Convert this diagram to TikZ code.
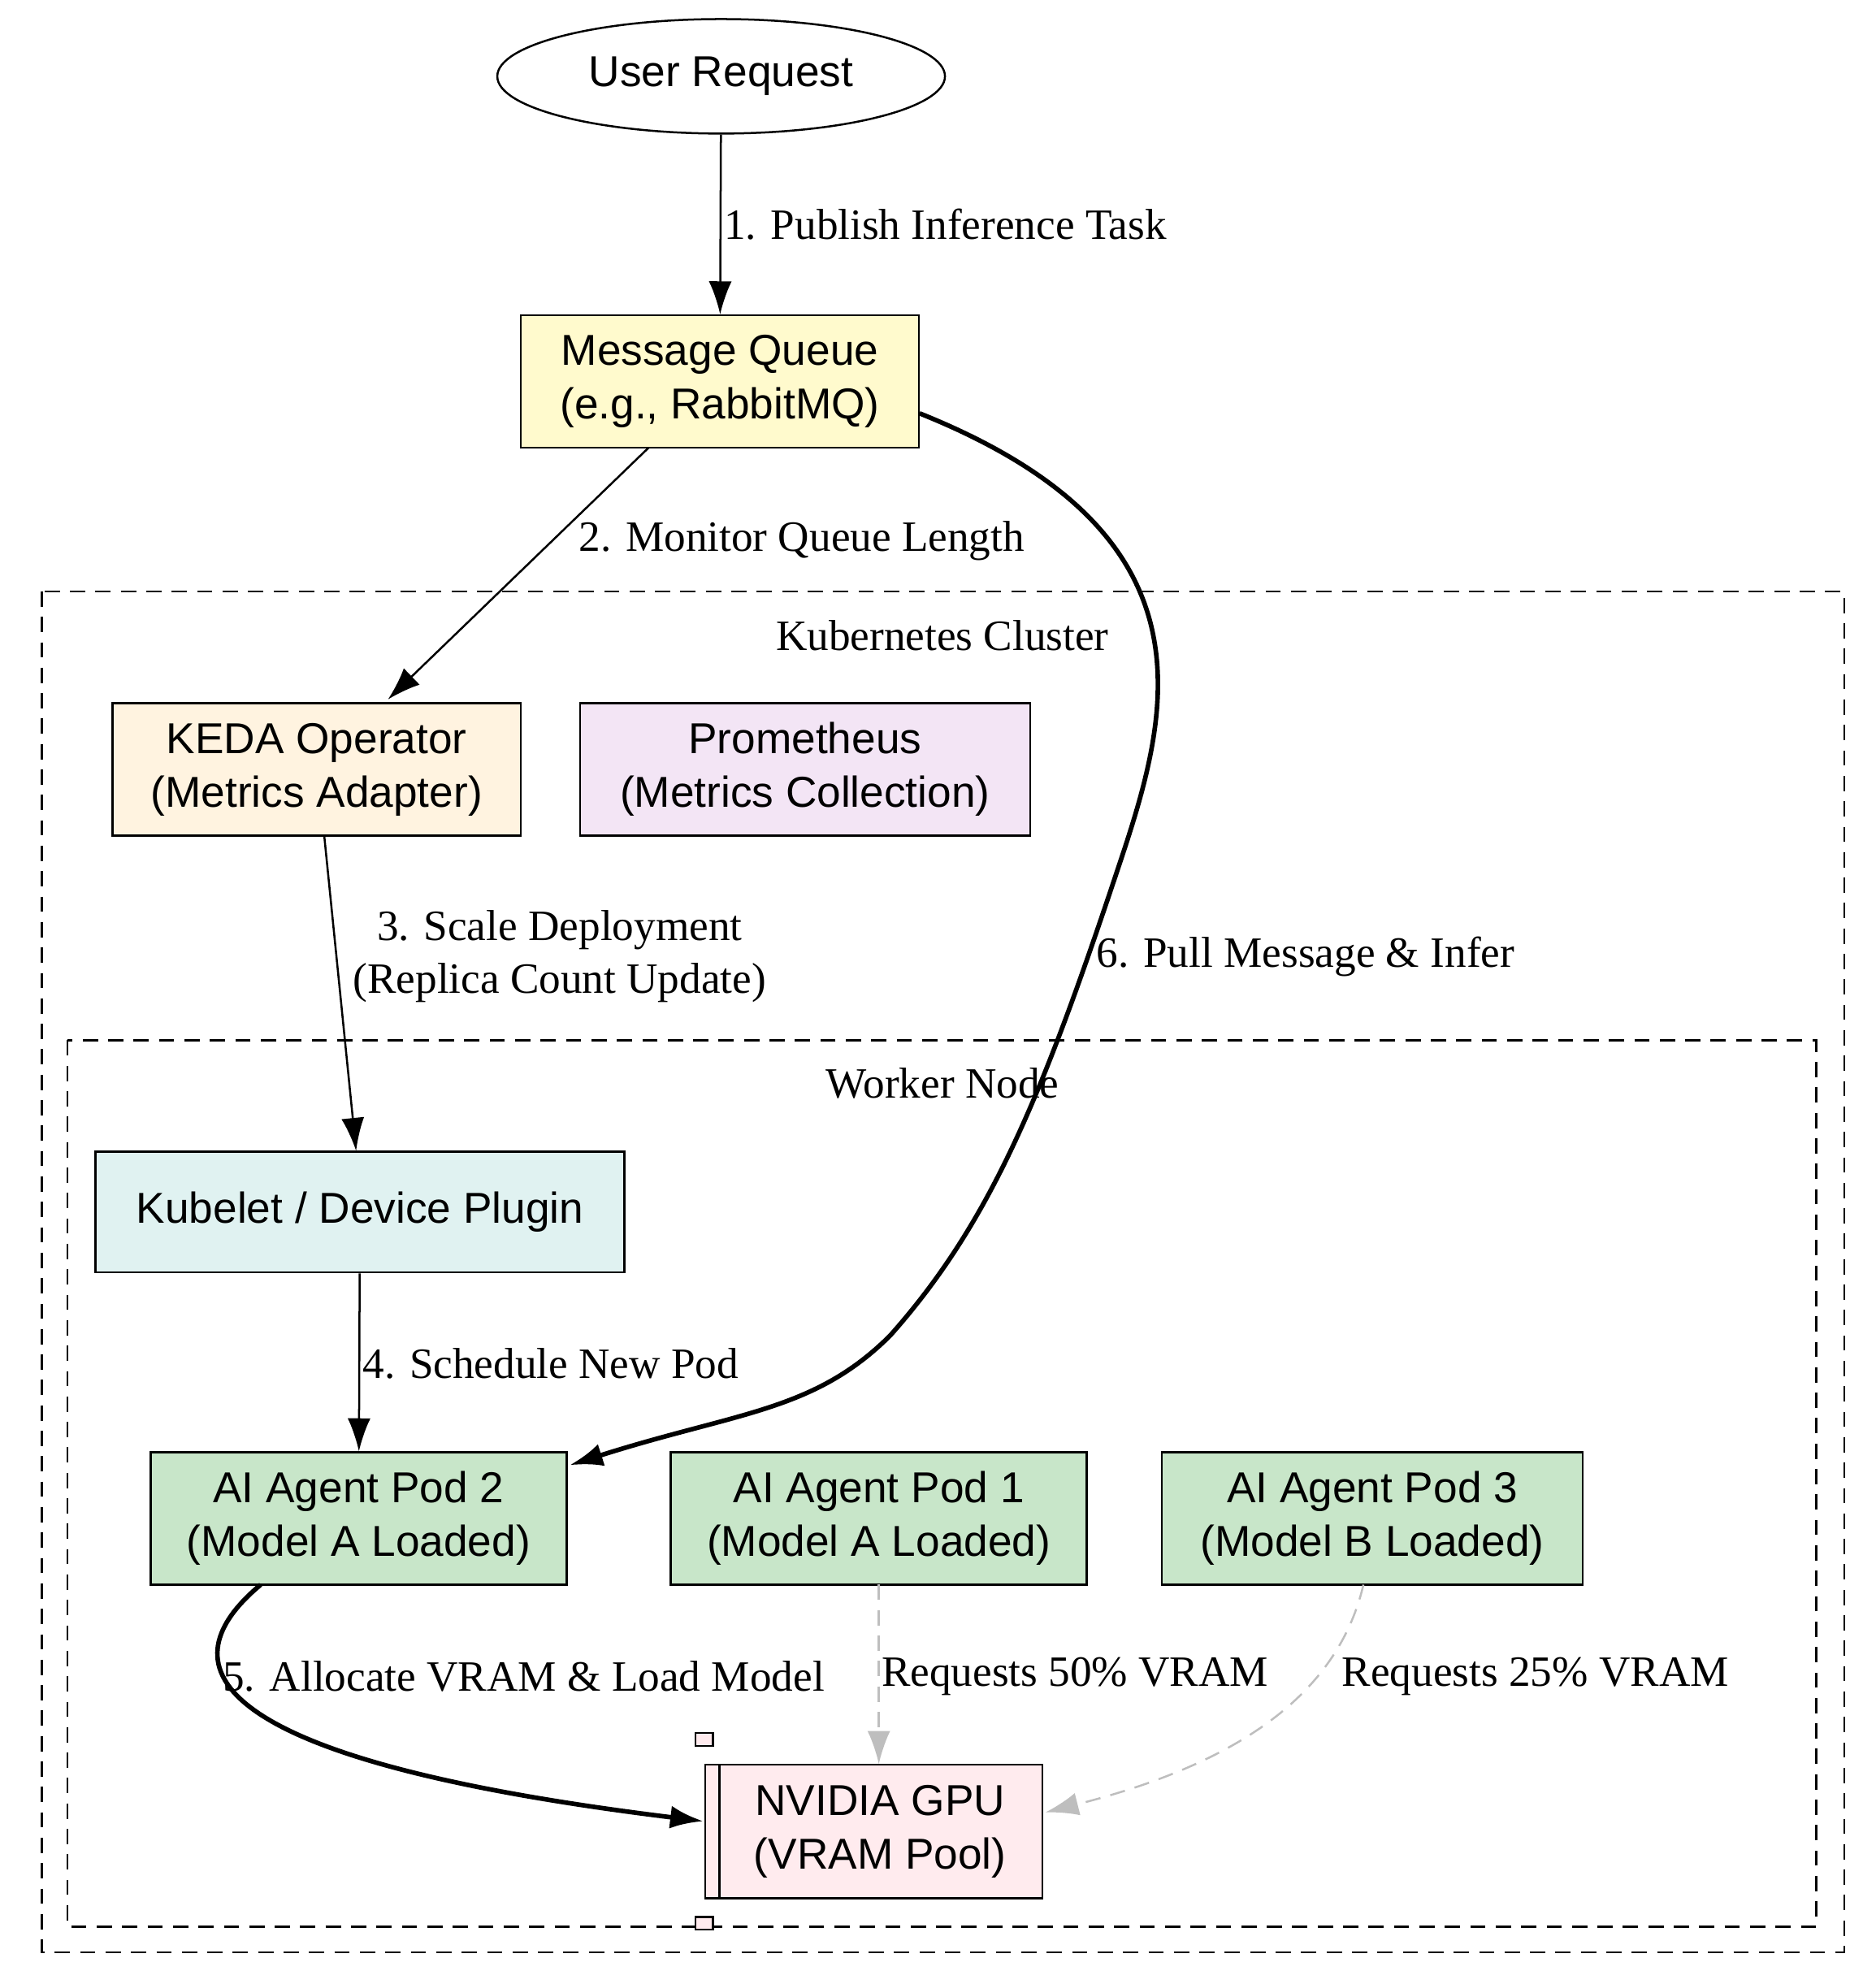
\documentclass[tikz,border=0pt]{standalone}
\usepackage{fontspec}
\setmainfont{Liberation Serif}
\newfontfamily\nodefont{Liberation Sans}
\usetikzlibrary{arrows.meta,shapes.geometric}
\begin{document}
\begin{tikzpicture}[x=1pt,y=-1pt,
  box/.style={draw,line width=1.6pt,minimum height=104pt,align=center,font=\nodefont\fontsize{34}{42}\selectfont,inner sep=0pt},
  lbl/.style={font=\fontsize{34}{42}\selectfont,align=center,inner sep=0pt},
  edge/.style={line width=1.6pt,-{Latex[length=26pt,width=18pt]}},
  thick edge/.style={line width=3.6pt,-{Latex[length=26pt,width=18pt]}},
  soft/.style={line width=1.6pt,dashed,dash pattern=on 12pt off 8pt,draw={rgb,255:red,190;green,190;blue,190},-{Latex[length=26pt,width=18pt]}},
  cluster/.style={draw,line width=1.6pt,dash pattern=on 12pt off 8pt}]
\useasboundingbox (0,0) rectangle (1475,1560);
\draw[cluster] (33,465) rectangle (1450,1535);
\draw[cluster] (53,818) rectangle (1428,1515);
\node[lbl] at (741,500) {Kubernetes Cluster};
\node[lbl] at (741,852) {Worker Node};

\node[draw,ellipse,line width=1.6pt,minimum width=352pt,minimum height=90pt,font=\nodefont\fontsize{34}{42}\selectfont] (ur) at (567,60) {User Request};
\node[box,fill={rgb,255:red,255;green,250;blue,205},minimum width=313pt] (mq) at (566,300) {Message Queue\\(e.g., RabbitMQ)};
\node[box,fill={rgb,255:red,255;green,243;blue,224},minimum width=321pt] (keda) at (249,605) {KEDA Operator\\(Metrics Adapter)};
\node[box,fill={rgb,255:red,243;green,229;blue,245},minimum width=354pt] (prom) at (633,605) {Prometheus\\(Metrics Collection)};
\node[box,fill={rgb,255:red,224;green,242;blue,241},minimum width=416pt,minimum height=95pt] (kub) at (283,953) {Kubelet / Device Plugin};
\node[box,fill={rgb,255:red,200;green,230;blue,201},minimum width=327pt] (p2) at (282,1194) {AI Agent Pod 2\\(Model A Loaded)};
\node[box,fill={rgb,255:red,200;green,230;blue,201},minimum width=327pt] (p1) at (691,1194) {AI Agent Pod 1\\(Model A Loaded)};
\node[box,fill={rgb,255:red,200;green,230;blue,201},minimum width=331pt] (p3) at (1079,1194) {AI Agent Pod 3\\(Model B Loaded)};
\node[box,fill={rgb,255:red,255;green,235;blue,238},minimum width=265pt,minimum height=105pt] (gpu) at (687,1440) {\hspace{10pt}NVIDIA GPU\\\hspace{10pt}(VRAM Pool)};
\draw[line width=1.6pt] ([xshift=12pt]gpu.south west) -- ([xshift=12pt]gpu.north west);
\draw[line width=1.6pt,fill={rgb,255:red,255;green,235;blue,238}] ([shift={(-7,-14)}]gpu.north west) rectangle ([shift={(7,-24)}]gpu.north west);
\draw[line width=1.6pt,fill={rgb,255:red,255;green,235;blue,238}] ([shift={(-7,14)}]gpu.south west) rectangle ([shift={(7,24)}]gpu.south west);

\draw[edge] (ur) -- (mq) node[lbl,pos=0.5,right=2pt] {1. Publish Inference Task};
\draw[edge] (510,352) -- (305,550);
\node[lbl,anchor=west] at (455,425) {2. Monitor Queue Length};
\draw[edge] (keda.south) ++(6,0) -- (280,905);
\node[lbl] at (440,752) {3. Scale Deployment\\(Replica Count Update)};
\draw[edge] (kub) -- (p2);
\node[lbl,anchor=west] at (285,1072) {4. Schedule New Pod};
\draw[thick edge] (205,1246) .. controls (140,1300) and (130,1380) .. (553,1432);
\node[lbl,anchor=west] at (175,1318) {5. Allocate VRAM \& Load Model};
\draw[thick edge] (723,325) .. controls (960,420) and (920,560) .. (880,680) .. controls (820,860) and (780,960) .. (700,1050) .. controls (640,1110) and (580,1110) .. (448,1152);
\node[lbl,anchor=west] at (862,752) {6. Pull Message \& Infer};
\draw[soft] (691,1246) -- (691,1387);
\node[lbl,anchor=west] at (693,1318) {Requests 50\% VRAM};
\draw[soft] (1072,1246) .. controls (1050,1340) and (960,1390) .. (822,1425);
\node[lbl,anchor=west] at (1055,1318) {Requests 25\% VRAM};
\end{tikzpicture}
\end{document}
